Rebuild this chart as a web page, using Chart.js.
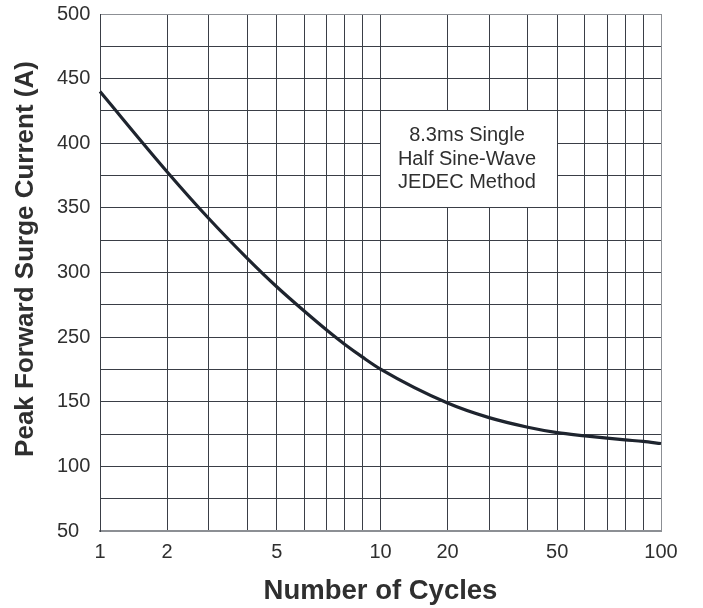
<!DOCTYPE html>
<html>
<head>
<meta charset="utf-8">
<script src="https://cdn.jsdelivr.net/npm/chart.js@4/dist/chart.umd.min.js"></script>
<style>
html,body{margin:0;padding:0;background:#fff;}
#wrap{width:703px;height:608px;}
</style>
</head>
<body>
<div id="wrap"><canvas id="c" width="703" height="608"></canvas></div>
<script>
// ---- data ----
const cycles       = [1, 2, 3, 4, 5, 6, 7, 8, 9, 10, 20, 30, 40, 50, 60, 70, 80, 90, 100];
const surgeCurrent = [440, 378, 342, 311, 289, 270, 255.5, 239, 219, 200.5, 149, 137.7, 130.3, 126.1, 123.6, 121.8, 120.5, 119.3, 117.7];

// ---- ticks ----
const xGridValues = [1, 2, 3, 4, 5, 6, 7, 8, 9, 10, 20, 30, 40, 50, 60, 70, 80, 90, 100];
const xTickLabels = [1, 2, 5, 10, 20, 50, 100];
const yTickLabels = [50, 100, 150, 250, 300, 350, 400, 450, 500];
const yMinorGrid  = [75, 125, 200, 275, 325, 375, 425, 475];
const noteLines   = ['8.3ms Single', 'Half Sine-Wave', 'JEDEC Method'];

// ---- chart-paper scale definition (grid spacing of the printed paper) ----
const decadeGrid = [0, 0.239, 0.387, 0.525, 0.630, 0.729, 0.808, 0.872, 0.936, 1];
function xFrac(v) {
  let dec = Math.floor(Math.log10(v) + 1e-9);
  dec = Math.min(Math.max(dec, 0), 1);
  const m = v / Math.pow(10, dec);
  const i = Math.min(Math.max(Math.floor(m), 1), 9);
  const f = decadeGrid[i - 1] + (decadeGrid[i] - decadeGrid[i - 1]) * (m - i);
  return (dec + f) / 2;
}
function xInv(d) {
  const t = d * 2; const dec = Math.min(Math.floor(t), 1); const f = t - dec;
  for (let i = 1; i < decadeGrid.length; i++) {
    if (f <= decadeGrid[i]) {
      const m = i + (f - decadeGrid[i - 1]) / (decadeGrid[i] - decadeGrid[i - 1]);
      return m * Math.pow(10, dec);
    }
  }
  return 100;
}
function yFrac(v) {
  const n = yTickLabels.length - 1;
  for (let i = 1; i <= n; i++) {
    if (v <= yTickLabels[i] || i === n) {
      return (i - 1 + (v - yTickLabels[i - 1]) / (yTickLabels[i] - yTickLabels[i - 1])) / n;
    }
  }
}
function yInv(d) {
  const n = yTickLabels.length - 1; const t = d * n;
  const i = Math.min(Math.max(Math.floor(t), 0), n - 1);
  return yTickLabels[i] + (t - i) * (yTickLabels[i + 1] - yTickLabels[i]);
}
const paperMaps = {
  x: { frac: xFrac, inv: xInv, min: 1, max: 100, ticks: xGridValues },
  y: { frac: yFrac, inv: yInv, min: 50, max: 500,
       ticks: [...yTickLabels, ...yMinorGrid].sort((a, b) => a - b) }
};

class PaperScale extends Chart.LinearScale {
  static id = 'paper';
  get pm() { return paperMaps[this.id]; }
  determineDataLimits() { this.min = this.pm.min; this.max = this.pm.max; }
  buildTicks() { return this.pm.ticks.map(v => ({ value: v })); }
  getPixelForValue(v) { return this.getPixelForDecimal(this.pm.frac(v)); }
  getValueForPixel(p) { return this.pm.inv(this.getDecimalForPixel(p)); }
}
Chart.register(PaperScale);

const FONT = "'Liberation Sans', Arial, Helvetica, sans-serif";
const GRID = '#3a3e46';
const EDGE = '#8c8f94';
const TEXT = '#2f2f2f';

const notePlugin = {
  id: 'note',
  beforeDatasetsDraw(chart, args, opts) {
    const { x, y } = chart.scales;
    const ctx = chart.ctx;
    const l = Math.round(x.getPixelForValue(opts.xRange[0]) - 0.5) + 1;
    const r = Math.round(x.getPixelForValue(opts.xRange[1]) - 0.5);
    const t = Math.round(y.getPixelForValue(opts.yRange[1]) - 0.5) + 1;
    const b = Math.round(y.getPixelForValue(opts.yRange[0]) - 0.5);
    ctx.save();
    ctx.fillStyle = '#ffffff';
    ctx.fillRect(l, t, r - l, b - t);
    ctx.fillStyle = TEXT;
    ctx.font = '20px ' + FONT;
    ctx.textAlign = 'center';
    ctx.textBaseline = 'middle';
    const cx = (l + r) / 2 - 2, cy = (t + b) / 2;
    const lh = 23.7;
    opts.lines.forEach((s, i) => {
      ctx.fillText(s, cx, cy + (i - (opts.lines.length - 1) / 2) * lh);
    });
    ctx.restore();
  }
};

const yTitlePlugin = {
  id: 'ytitle',
  afterDraw(chart, args, opts) {
    const ctx = chart.ctx;
    const area = chart.chartArea;
    ctx.save();
    ctx.translate(33, (area.top + area.bottom) / 2 - 13.5);
    ctx.rotate(-Math.PI / 2);
    ctx.font = 'bold 26px ' + FONT;
    ctx.fillStyle = TEXT;
    ctx.textAlign = 'center';
    ctx.textBaseline = 'alphabetic';
    ctx.fillText(opts.text, 0, 0);
    ctx.restore();
  }
};

new Chart(document.getElementById('c'), {
  type: 'line',
  data: {
    datasets: [{
      data: cycles.map((c, i) => ({ x: c, y: surgeCurrent[i] })),
      borderColor: '#1e242e',
      borderWidth: 3.2,
      pointRadius: 0,
      cubicInterpolationMode: 'monotone',
      fill: false
    }]
  },
  options: {
    responsive: false,
    devicePixelRatio: 1,
    animation: false,
    layout: { padding: { left: 57, right: 42, top: 14, bottom: 0 } },
    plugins: {
      legend: { display: false },
      tooltip: { enabled: false },
      note: { xRange: [10, 50], yRange: [350, 425], lines: noteLines },
      ytitle: { text: 'Peak Forward Surge Current (A)' }
    },
    scales: {
      x: {
        type: 'paper',
        position: 'bottom',
        afterFit: s => { s.height = 77; s.paddingLeft = 0; s.paddingRight = 0; },
        grid: {
          drawTicks: false,
          lineWidth: 1,
          color: c => (c.tick && c.tick.value === 100) ? EDGE : GRID
        },
        border: { display: true, color: EDGE, width: 2 },
        ticks: {
          autoSkip: false,
          maxRotation: 0,
          padding: 9,
          color: TEXT,
          font: { family: FONT, size: 20 },
          callback: v => xTickLabels.includes(v) ? String(v) : ''
        },
        title: {
          display: true,
          text: 'Number of Cycles',
          color: TEXT,
          font: { family: FONT, size: 27.5, weight: 'bold' },
          padding: { top: 0, bottom: 0 }
        }
      },
      y: {
        type: 'paper',
        position: 'left',
        afterFit: s => { s.width = 43; s.paddingTop = 0; s.paddingBottom = 0; },
        grid: {
          drawTicks: false,
          lineWidth: 1,
          color: c => (c.tick && c.tick.value === 500) ? EDGE : GRID
        },
        border: { display: true, color: GRID, width: 1 },
        ticks: {
          autoSkip: false,
          crossAlign: 'far',
          padding: 8,
          color: TEXT,
          font: { family: FONT, size: 20 },
          callback: v => yTickLabels.includes(v) ? String(v) : ''
        }
      }
    }
  },
  plugins: [notePlugin, yTitlePlugin]
});
</script>
</body>
</html>
